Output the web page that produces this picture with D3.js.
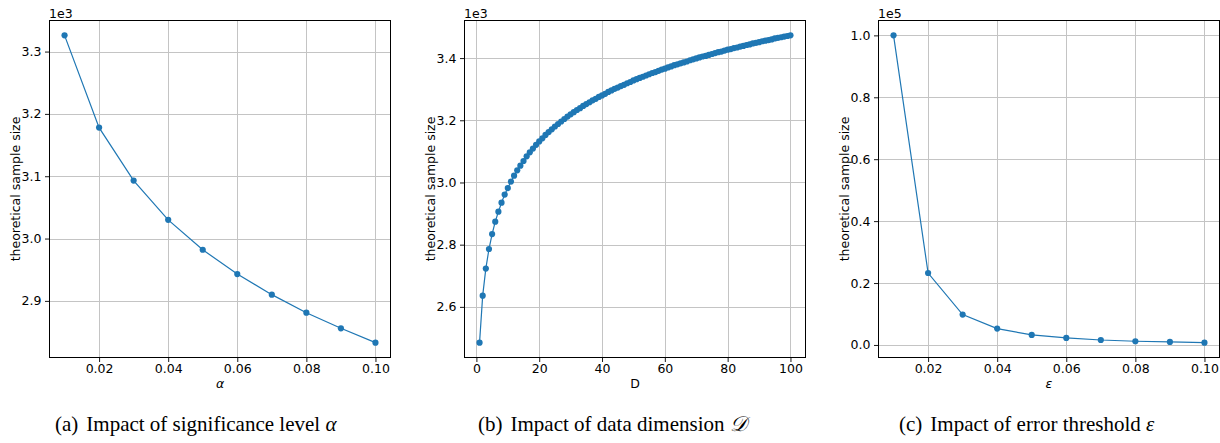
<!DOCTYPE html>
<html>
<head>
<meta charset="utf-8">
<script src="https://cdn.jsdelivr.net/npm/d3@7"></script>
<style>
  body { margin: 0; background: #fff; }
  svg { display: block; }
</style>
</head>
<body>
<svg id="fig" width="1220" height="443"></svg>
<script>
// (a) significance level alpha vs theoretical sample size
const alphaLevels = [0.01, 0.02, 0.03, 0.04, 0.05, 0.06, 0.07, 0.08, 0.09, 0.10];
const sizeByAlpha = [3326, 3178, 3093, 3030, 2982, 2943, 2910, 2881, 2856, 2833];

// (b) data dimension D = 1..100 vs theoretical sample size
const dimensions = d3.range(1, 101);
const sizeByDim = [
  2485, 2636, 2723, 2786, 2834, 2874, 2906, 2935, 2961, 2982,
  3003, 3022, 3039, 3054, 3069, 3084, 3097, 3109, 3121, 3132,
  3142, 3153, 3162, 3171, 3180, 3188, 3196, 3204, 3212, 3219,
  3226, 3233, 3239, 3246, 3252, 3258, 3264, 3269, 3275, 3280,
  3285, 3291, 3296, 3301, 3305, 3310, 3314, 3319, 3323, 3328,
  3332, 3336, 3340, 3344, 3348, 3352, 3355, 3359, 3363, 3366,
  3370, 3373, 3377, 3380, 3383, 3386, 3389, 3393, 3396, 3399,
  3402, 3405, 3407, 3410, 3413, 3416, 3419, 3421, 3424, 3427,
  3429, 3432, 3434, 3437, 3439, 3442, 3444, 3447, 3449, 3451,
  3454, 3456, 3458, 3460, 3463, 3465, 3467, 3469, 3471, 3473
];

// (c) error threshold epsilon vs theoretical sample size
const epsLevels = [0.01, 0.02, 0.03, 0.04, 0.05, 0.06, 0.07, 0.08, 0.09, 0.10];
const sizeByEps = [100000, 23240, 9800, 5280, 3240, 2270, 1600, 1200, 970, 750];

// tick values
const rateTicks = [0.02, 0.04, 0.06, 0.08, 0.10];
const dimTicks = [0, 20, 40, 60, 80, 100];
const alphaSizeTicks = [2900, 3000, 3100, 3200, 3300];
const dimSizeTicks = [2600, 2800, 3000, 3200, 3400];
const epsSizeTicks = [0, 20000, 40000, 60000, 80000, 100000];

const panels = [
  { left: 49,  xs: alphaLevels, ys: sizeByAlpha, xTicks: rateTicks, yTicks: alphaSizeTicks,
    xFmt: d => d.toFixed(2), yScaleExp: 3, xLabel: "α", xItalic: true,
    capTag: "(a)", capText: "Impact of significance level ", capSym: "α", capX: 55 },
  { left: 464, xs: dimensions, ys: sizeByDim, xTicks: dimTicks, yTicks: dimSizeTicks,
    xFmt: d3.format("d"), yScaleExp: 3, xLabel: "D", xItalic: false,
    capTag: "(b)", capText: "Impact of data dimension ", capSym: "\u{1D49F}", capX: 478 },
  { left: 878, xs: epsLevels, ys: sizeByEps, xTicks: rateTicks, yTicks: epsSizeTicks,
    xFmt: d => d.toFixed(2), yScaleExp: 5, xLabel: "ε", xItalic: true,
    capTag: "(c)", capText: "Impact of error threshold ", capSym: "ε", capX: 899 }
];

const W = 342, TOP = 20, BOTTOM = 358;
const BLUE = "#1f77b4";
const SANS = "DejaVu Sans, sans-serif";
const SERIF = "Liberation Serif, Times New Roman, serif";
const FS = 12.5;

const svg = d3.select("#fig");

// 5% data margins on each side, like matplotlib autoscaling
function padded(values) {
  const [lo, hi] = d3.extent(values);
  const m = (hi - lo) * 0.05;
  return [lo - m, hi + m];
}

panels.forEach(p => {
  const g = svg.append("g");
  const x = d3.scaleLinear().domain(padded(p.xs)).range([p.left, p.left + W]);
  const y = d3.scaleLinear().domain(padded(p.ys)).range([BOTTOM, TOP]);
  const div = Math.pow(10, p.yScaleExp);

  // grid
  const grid = g.append("g").attr("stroke", "#c4c4c4").attr("stroke-width", 1)
    .attr("shape-rendering", "crispEdges");
  grid.selectAll("line.gx").data(p.xTicks).join("line")
    .attr("x1", d => Math.round(x(d)) + 0.5).attr("x2", d => Math.round(x(d)) + 0.5)
    .attr("y1", TOP).attr("y2", BOTTOM);
  grid.selectAll("line.gy").data(p.yTicks).join("line")
    .attr("y1", d => Math.round(y(d)) + 0.5).attr("y2", d => Math.round(y(d)) + 0.5)
    .attr("x1", p.left).attr("x2", p.left + W);

  // axes
  const xAxis = d3.axisBottom(x).tickValues(p.xTicks).tickFormat(p.xFmt)
    .tickSizeInner(4).tickSizeOuter(0).tickPadding(2.5);
  const yAxis = d3.axisLeft(y).tickValues(p.yTicks).tickFormat(d => (d / div).toFixed(1))
    .tickSizeInner(4).tickSizeOuter(0).tickPadding(3.5);

  const gx = g.append("g").attr("transform", `translate(0,${BOTTOM})`).call(xAxis);
  const gy = g.append("g").attr("transform", `translate(${p.left},0)`).call(yAxis);
  [gx, gy].forEach(a => {
    a.select(".domain").remove();
    a.selectAll("text").attr("font-family", SANS).attr("font-size", FS).attr("fill", "#000");
    a.selectAll("line").attr("stroke", "#000").attr("stroke-width", 0.9);
  });

  // spines
  g.append("rect")
    .attr("x", p.left + 0.5).attr("y", TOP + 0.5)
    .attr("width", W - 1).attr("height", BOTTOM - TOP - 1)
    .attr("fill", "none").attr("stroke", "#000").attr("stroke-width", 1)
    .attr("shape-rendering", "crispEdges");

  // series
  const pts = p.xs.map((v, i) => [v, p.ys[i]]);
  g.append("path").datum(pts)
    .attr("fill", "none").attr("stroke", BLUE).attr("stroke-width", 1.2)
    .attr("d", d3.line().x(d => x(d[0])).y(d => y(d[1])));
  g.append("g").selectAll("circle").data(pts).join("circle")
    .attr("cx", d => x(d[0])).attr("cy", d => y(d[1])).attr("r", 3.1)
    .attr("fill", BLUE);

  // offset text
  g.append("text").attr("x", p.left).attr("y", 18)
    .attr("font-family", SANS).attr("font-size", FS).text("1e" + p.yScaleExp);

  // axis labels
  g.append("text").attr("x", p.left + W / 2).attr("y", 387.5)
    .attr("text-anchor", "middle").attr("font-family", SANS).attr("font-size", FS)
    .attr("font-style", p.xItalic ? "italic" : "normal").text(p.xLabel);
  g.append("text")
    .attr("transform", `translate(${p.left - 29.5},${(TOP + BOTTOM) / 2}) rotate(-90)`)
    .attr("text-anchor", "middle").attr("font-family", SANS).attr("font-size", FS)
    .text("theoretical sample size");

  // caption
  const cap = g.append("text").attr("x", p.capX).attr("y", 431)
    .attr("font-family", SERIF).attr("font-size", 21).attr("fill", "#000");
  cap.append("tspan").text(p.capTag);
  cap.append("tspan").attr("dx", 8).text(p.capText);
  cap.append("tspan").attr("font-style", "italic").text(p.capSym);
});
</script>
</body>
</html>
